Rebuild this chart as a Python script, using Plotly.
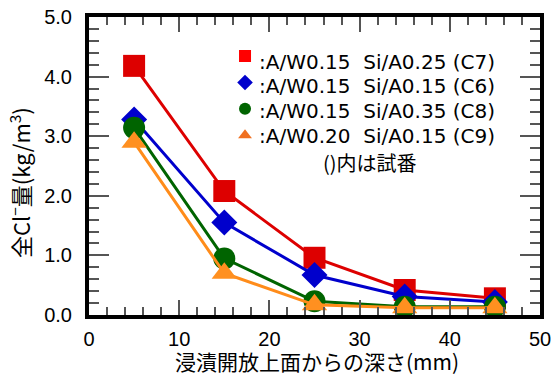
import plotly.graph_objects as go

depth = [5, 15, 25, 35, 45]
c7 = [4.18, 2.08, 0.96, 0.42, 0.28]
c6 = [3.28, 1.55, 0.67, 0.31, 0.22]
c8 = [3.14, 0.95, 0.23, 0.14, 0.14]
c9 = [2.90, 0.70, 0.17, 0.12, 0.12]

names = [":A/W0.15  Si/A0.25 (C7)", ":A/W0.15  Si/A0.15 (C6)",
         ":A/W0.15  Si/A0.35 (C8)", ":A/W0.20  Si/A0.15 (C9)"]
series = [c7, c6, c8, c9]
line_colors = ["#dd0000", "#0000cc", "#006400", "#ff8c1a"]
marker_colors = ["#dd0000", "#0000cc", "#006400", "#ff9020"]
legend_colors = ["#ff0000", "#0000cc", "#006400", "#f07020"]
symbols = ["square", "diamond", "circle", "triangle-up"]
sizes = [22, 20, 22, 22]

FONT = "Liberation Sans, Arial, Noto Sans CJK JP, sans-serif"
JP = "Noto Sans CJK JP, sans-serif"
LEG = "DejaVu Sans, sans-serif"

fig = go.Figure()
for ys, lc, mc, sym, sz in zip(series, line_colors, marker_colors, symbols, sizes):
    fig.add_trace(go.Scatter(x=depth, y=ys, mode="lines+markers",
                             line=dict(color=lc, width=3),
                             marker=dict(symbol=sym, size=sz, color=mc),
                             showlegend=False))
for nm, c, sym in zip(names, legend_colors, symbols):
    fig.add_trace(go.Scatter(x=[None], y=[None], mode="markers", name=" ",
                             marker=dict(symbol=sym, size=17, color=c)))

# legend label texts placed beside the legend symbols (pixel rows -> paper coords)
row_y = [62, 86, 111, 136]
annotations = []
for nm, ry in zip(names, row_y):
    annotations.append(dict(text=nm, x=(257 - 89) / 451, y=(315 - ry) / 298,
                            xref="paper", yref="paper",
                            showarrow=False, xanchor="left", yanchor="middle",
                            font=dict(size=20, family=LEG, color="black")))
annotations.append(dict(text="()内は試番", x=0.623, y=0.513, xref="paper", yref="paper",
                        showarrow=False, font=dict(size=20, family=JP, color="black"),
                        xanchor="center", yanchor="middle"))
annotations.append(dict(text="浸漬開放上面からの深さ(mm)", x=(317 - 89) / 451, y=(315 - 361) / 298,
                        xref="paper", yref="paper", showarrow=False,
                        xanchor="center", yanchor="middle",
                        font=dict(size=21, family=JP, color="black")))
annotations.append(dict(text="全Cl<sup>−</sup>量(kg/m<sup>3</sup>)", x=(19 - 89) / 451,
                        y=(315 - 183) / 298, xref="paper", yref="paper", showarrow=False,
                        xanchor="center", yanchor="middle", textangle=-90,
                        font=dict(size=22, family=JP, color="black")))

fig.update_layout(
    width=552, height=377,
    margin=dict(l=89, r=12, t=17, b=62),
    paper_bgcolor="white", plot_bgcolor="white",
    font=dict(family=FONT, size=20, color="black"),
    legend=dict(x=0.3016, y=0.93, xanchor="left", yanchor="top",
                bgcolor="rgba(0,0,0,0)",
                font=dict(size=18, family=FONT, color="black"),
                tracegroupgap=0, itemsizing="constant"),
    annotations=annotations,
)

fig.update_xaxes(range=[0, 50], dtick=10, showgrid=False, zeroline=False, automargin=False,
                 showline=True, linewidth=4, linecolor="black", mirror="ticks",
                 ticks="inside", ticklen=15, tickwidth=1.5, tickcolor="#555",
                 tickfont=dict(size=20, color="black"), ticklabelstandoff=3,
                 minor=dict(dtick=2, ticks="inside", ticklen=8, tickwidth=1.5, tickcolor="#555"))
fig.update_yaxes(range=[0, 5], dtick=1, tickformat=".1f", showgrid=False, zeroline=False,
                 automargin=False,
                 showline=True, linewidth=4, linecolor="black", mirror="ticks",
                 ticks="inside", ticklen=20, tickwidth=1.5, tickcolor="#555",
                 tickfont=dict(size=20, color="black"), ticklabelstandoff=9,
                 minor=dict(dtick=0.2, ticks="inside", ticklen=10, tickwidth=1.5, tickcolor="#555"))

fig.write_html("out.html")
